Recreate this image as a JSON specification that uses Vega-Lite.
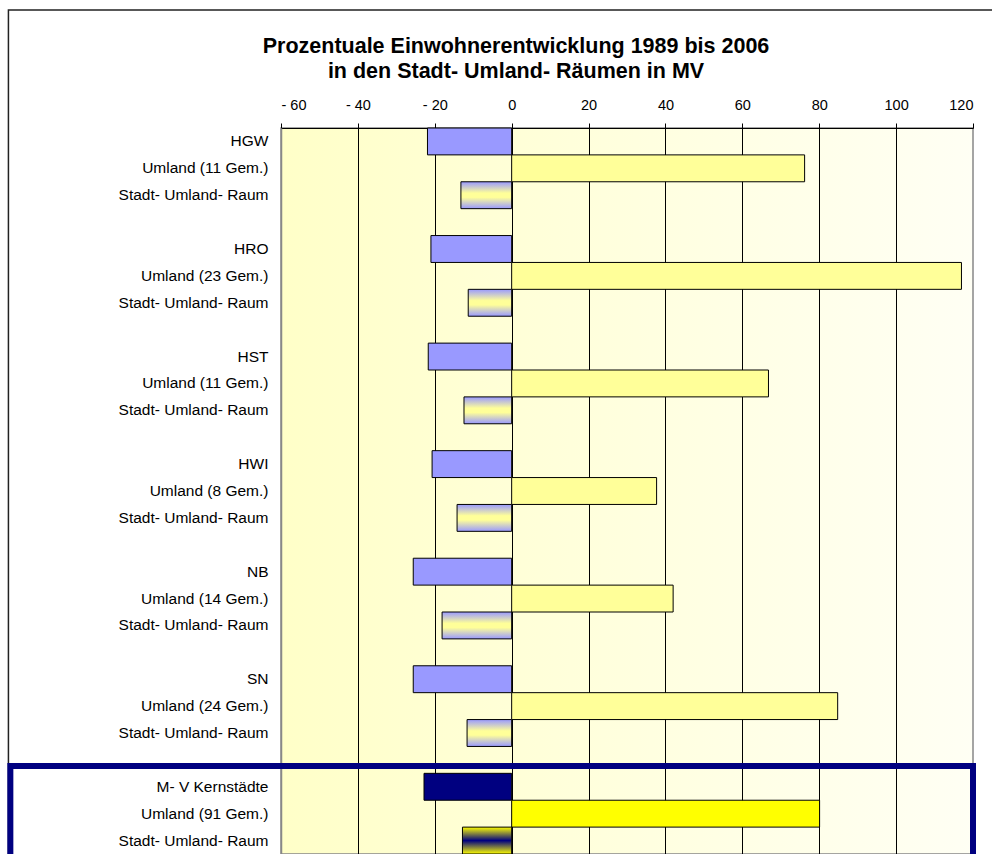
{
  "$schema": "https://vega.github.io/schema/vega-lite/v6.json",
  "width": 692,
  "height": 726,
  "autosize": "none",
  "padding": {"left": 281, "top": 128, "right": 19, "bottom": 0},
  "background": "white",
  "title": {
    "text": ["Prozentuale Einwohnerentwicklung 1989 bis 2006", "in den Stadt- Umland- Räumen in MV"],
    "font": "Liberation Sans",
    "fontSize": 21.5,
    "fontWeight": "bold",
    "lineHeight": 25,
    "anchor": "middle",
    "dx": -111,
    "dy": 73,
    "offset": 0,
    "color": "black"
  },
  "config": {
    "font": "Liberation Sans",
    "view": {
      "stroke": "#888888",
      "strokeWidth": 1.5,
      "fill": {
        "gradient": "linear", "x1": 0, "y1": 0, "x2": 1, "y2": 0,
        "stops": [
          {"offset": 0, "color": "#FFFFC8"},
          {"offset": 0.35, "color": "#FFFFD8"},
          {"offset": 1, "color": "#FFFFF4"}
        ]
      }
    }
  },
  "data": {
    "values": [
      {"key": "HGW#1", "kind": "city", "value": -21.9},
      {"key": "Umland (11 Gem.)#1", "kind": "umland", "value": 76.2},
      {"key": "Stadt- Umland- Raum#1", "kind": "sur", "value": -13.2},
      {"key": "HRO#2", "kind": "city", "value": -21.0},
      {"key": "Umland (23 Gem.)#2", "kind": "umland", "value": 117.0},
      {"key": "Stadt- Umland- Raum#2", "kind": "sur", "value": -11.3},
      {"key": "HST#3", "kind": "city", "value": -21.7},
      {"key": "Umland (11 Gem.)#3", "kind": "umland", "value": 66.8},
      {"key": "Stadt- Umland- Raum#3", "kind": "sur", "value": -12.4},
      {"key": "HWI#4", "kind": "city", "value": -20.7},
      {"key": "Umland (8 Gem.)#4", "kind": "umland", "value": 37.7},
      {"key": "Stadt- Umland- Raum#4", "kind": "sur", "value": -14.2},
      {"key": "NB#5", "kind": "city", "value": -25.6},
      {"key": "Umland (14 Gem.)#5", "kind": "umland", "value": 42.0},
      {"key": "Stadt- Umland- Raum#5", "kind": "sur", "value": -18.1},
      {"key": "SN#6", "kind": "city", "value": -25.6},
      {"key": "Umland (24 Gem.)#6", "kind": "umland", "value": 84.8},
      {"key": "Stadt- Umland- Raum#6", "kind": "sur", "value": -11.6},
      {"key": "M- V Kernstädte#7", "kind": "mvcity", "value": -22.8},
      {"key": "Umland (91 Gem.)#7", "kind": "mvumland", "value": 80.1},
      {"key": "Stadt- Umland- Raum#7", "kind": "mvsur", "value": -12.8}
    ]
  },
  "resolve": {"scale": {"y": "independent"}},
  "layer": [
    {
      "encoding": {
        "y": {
          "field": "key",
          "type": "nominal",
          "sort": null,
          "scale": {
            "domain": [
              "HGW#1", "Umland (11 Gem.)#1", "Stadt- Umland- Raum#1", "#b1",
              "HRO#2", "Umland (23 Gem.)#2", "Stadt- Umland- Raum#2", "#b2",
              "HST#3", "Umland (11 Gem.)#3", "Stadt- Umland- Raum#3", "#b3",
              "HWI#4", "Umland (8 Gem.)#4", "Stadt- Umland- Raum#4", "#b4",
              "NB#5", "Umland (14 Gem.)#5", "Stadt- Umland- Raum#5", "#b5",
              "SN#6", "Umland (24 Gem.)#6", "Stadt- Umland- Raum#6", "#b6",
              "M- V Kernstädte#7", "Umland (91 Gem.)#7", "Stadt- Umland- Raum#7"
            ],
            "paddingInner": 0,
            "paddingOuter": 0
          },
          "axis": {
            "title": null,
            "labelExpr": "split(datum.value, '#')[0]",
            "labelFont": "Liberation Sans",
            "labelFontSize": 15.5,
            "labelColor": "black",
            "ticks": false,
            "labelPadding": 13,
            "labelLimit": 300,
            "domainColor": "#888888",
            "domainWidth": 1.5,
            "grid": false
          }
        },
        "x": {
          "field": "value",
          "type": "quantitative",
          "scale": {"domain": [-60, 120], "nice": false, "zero": false},
          "axis": {
            "orient": "top",
            "title": null,
            "values": [-60, -40, -20, 0, 20, 40, 60, 80, 100, 120],
            "labelExpr": "datum.value < 0 ? '- ' + abs(datum.value) : datum.label",
            "labelFont": "Liberation Sans",
            "labelFontSize": 14.5,
            "labelColor": "black",
            "labelPadding": 10.5,
            "tickColor": "black",
            "tickSize": 5,
            "domainColor": "black",
            "domainWidth": 1,
            "grid": true,
            "gridColor": {"condition": {"test": "datum.value == -60 || datum.value == 120", "value": "transparent"}, "value": "black"},
            "gridWidth": 1,
            "gridOpacity": 1
          }
        }
      },
      "layer": [
        {
          "transform": [{"filter": "datum.kind == 'city'"}],
          "mark": {"type": "bar", "fill": "#9999FF", "stroke": "black", "strokeWidth": 1}
        },
        {
          "transform": [{"filter": "datum.kind == 'umland'"}],
          "mark": {"type": "bar", "fill": "#FFFF99", "stroke": "black", "strokeWidth": 1}
        },
        {
          "transform": [{"filter": "datum.kind == 'sur'"}],
          "mark": {
            "type": "bar", "stroke": "black", "strokeWidth": 1,
            "fill": {
              "gradient": "linear", "x1": 0, "y1": 0, "x2": 0, "y2": 1,
              "stops": [
                {"offset": 0, "color": "#9999FF"},
                {"offset": 0.42, "color": "#FFFF99"},
                {"offset": 0.58, "color": "#FFFF99"},
                {"offset": 1, "color": "#9999FF"}
              ]
            }
          }
        },
        {
          "transform": [{"filter": "datum.kind == 'mvcity'"}],
          "mark": {"type": "bar", "fill": "#000080", "stroke": "black", "strokeWidth": 1}
        },
        {
          "transform": [{"filter": "datum.kind == 'mvumland'"}],
          "mark": {"type": "bar", "fill": "#FFFF00", "stroke": "black", "strokeWidth": 1}
        },
        {
          "transform": [{"filter": "datum.kind == 'mvsur'"}],
          "mark": {
            "type": "bar", "stroke": "black", "strokeWidth": 1,
            "fill": {
              "gradient": "linear", "x1": 0, "y1": 0, "x2": 0, "y2": 1,
              "stops": [
                {"offset": 0, "color": "#FFFF00"},
                {"offset": 0.5, "color": "#000080"},
                {"offset": 1, "color": "#FFFF00"}
              ]
            }
          }
        }
      ]
    },
    {
      "data": {"values": [{}]},
      "encoding": {
        "y": {"type": "quantitative", "scale": {"domain": [0, 1], "nice": false, "zero": false}, "axis": null}
      },
      "layer": [
        {
          "mark": {"type": "rect", "fill": null, "stroke": "#222222", "strokeWidth": 1.5, "clip": false},
          "encoding": {
            "x": {"datum": -130.9, "type": "quantitative", "scale": {"domain": [-60, 120], "nice": false, "zero": false}},
            "x2": {"datum": 150},
            "y": {"datum": 1.1625, "type": "quantitative", "scale": {"domain": [0, 1], "nice": false, "zero": false}, "axis": null},
            "y2": {"datum": -0.3}
          }
        },
        {
          "mark": {"type": "rect", "fill": null, "stroke": "#000080", "strokeWidth": 6, "clip": false},
          "encoding": {
            "x": {"datum": -130.4, "type": "quantitative", "scale": {"domain": [-60, 120], "nice": false, "zero": false}},
            "x2": {"datum": 120},
            "y": {"datum": 0.1212, "type": "quantitative", "scale": {"domain": [0, 1], "nice": false, "zero": false}, "axis": null},
            "y2": {"datum": -0.0045}
          }
        }
      ]
    }
  ]
}
